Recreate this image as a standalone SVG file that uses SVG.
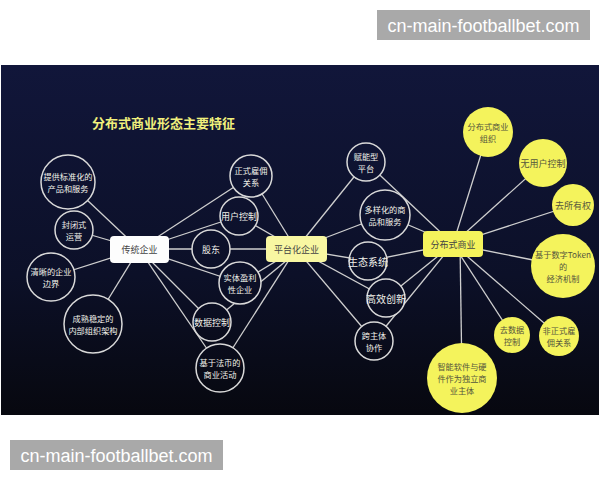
<svg xmlns="http://www.w3.org/2000/svg" width="600" height="480" viewBox="0 0 600 480">
<defs>
<linearGradient id="bg" gradientUnits="userSpaceOnUse" x1="0" y1="65" x2="0" y2="415">
<stop offset="0" stop-color="#11163a"/>
<stop offset="0.6" stop-color="#0c1028"/>
<stop offset="1" stop-color="#07080f"/>
</linearGradient>
<style>
.wm{fill:#a9a9a9}
.wmt{fill:#ffffff;font-family:"Liberation Sans",Arial,sans-serif;font-size:18px;text-anchor:middle}
.title{fill:#f0f07c;font-family:"Noto Sans CJK SC",sans-serif;font-size:13px;font-weight:bold}
.ring{fill:url(#bg);stroke:#d9d9d9;stroke-width:1.5}
.sun{fill:#f4f35c}
.t{font-family:"Noto Sans CJK SC",sans-serif;font-size:8.2px;text-anchor:middle;dominant-baseline:central}
.s{font-size:9px}
.tw{fill:#f2f2ea}
.td{fill:#55553c}
.tb{fill:#444}
.rw{fill:#fdfdfd}
.rp{fill:#f8f7a2}
.ry{fill:#f4f35c}
#edges line{stroke:#cfcfcf;stroke-width:1.3}
</style>
</defs>
<rect x="0" y="0" width="600" height="480" fill="#ffffff"/>
<rect x="1" y="65" width="598" height="350" fill="url(#bg)"/>
<rect class="wm" x="377" y="10" width="213" height="30"/>
<text class="wmt" x="483.5" y="31.5">cn-main-footballbet.com</text>
<rect class="wm" x="10" y="440" width="213" height="30"/>
<text class="wmt" x="116.5" y="461.5">cn-main-footballbet.com</text>
<text class="title" x="92" y="127.5">分布式商业形态主要特征</text>
<g id="edges">
<line x1="139" y1="249" x2="68" y2="182"/>
<line x1="139" y1="249" x2="74" y2="230"/>
<line x1="139" y1="249" x2="51" y2="277"/>
<line x1="139" y1="249" x2="93" y2="324"/>
<line x1="139" y1="249" x2="251" y2="176"/>
<line x1="139" y1="249" x2="239" y2="216"/>
<line x1="139" y1="249" x2="211" y2="249"/>
<line x1="139" y1="249" x2="240" y2="283"/>
<line x1="139" y1="249" x2="212" y2="322"/>
<line x1="139" y1="249" x2="220" y2="368"/>
<line x1="296" y1="249" x2="251" y2="176"/>
<line x1="296" y1="249" x2="239" y2="216"/>
<line x1="296" y1="249" x2="211" y2="249"/>
<line x1="296" y1="249" x2="240" y2="283"/>
<line x1="292" y1="256" x2="212" y2="322"/>
<line x1="296" y1="249" x2="220" y2="368"/>
<line x1="296" y1="249" x2="366" y2="162"/>
<line x1="296" y1="249" x2="385" y2="215"/>
<line x1="296" y1="249" x2="368" y2="261"/>
<line x1="296" y1="249" x2="386" y2="298"/>
<line x1="296" y1="249" x2="374" y2="341"/>
<line x1="453" y1="244" x2="366" y2="162"/>
<line x1="453" y1="244" x2="385" y2="215"/>
<line x1="453" y1="244" x2="368" y2="261"/>
<line x1="453" y1="244" x2="386" y2="298"/>
<line x1="453" y1="244" x2="374" y2="341"/>
<line x1="453" y1="244" x2="488" y2="132"/>
<line x1="453" y1="244" x2="543" y2="163"/>
<line x1="453" y1="244" x2="573" y2="205"/>
<line x1="453" y1="244" x2="563" y2="266"/>
<line x1="453" y1="244" x2="512" y2="335"/>
<line x1="453" y1="244" x2="559" y2="336"/>
<line x1="460" y1="244" x2="462" y2="378"/>
</g>
<g id="n-chuantong"><rect class="rw" x="110" y="236" width="59" height="27" rx="4"/><text class="t s tb" x="139.5" y="249.5">传统企业</text></g>
<g id="n-a1"><circle class="ring" cx="68" cy="182" r="27"/><text class="t tw" x="68" y="176">提供标准化的</text><text class="t tw" x="68" y="188">产品和服务</text></g>
<g id="n-a2"><circle class="ring" cx="74" cy="230" r="19"/><text class="t tw" x="74" y="224">封闭式</text><text class="t tw" x="74" y="236">运营</text></g>
<g id="n-a3"><circle class="ring" cx="51" cy="277" r="24"/><text class="t tw" x="51" y="271">清晰的企业</text><text class="t tw" x="51" y="283">边界</text></g>
<g id="n-a4"><circle class="ring" cx="93" cy="324" r="29"/><text class="t tw" x="93" y="318">成熟稳定的</text><text class="t tw" x="93" y="330">内部组织架构</text></g>
<g id="n-pingtai"><rect class="rp" x="266" y="236" width="61" height="26" rx="4"/><text class="t s tb" x="296.5" y="249">平台化企业</text></g>
<g id="n-b1"><circle class="ring" cx="251" cy="176" r="21"/><text class="t tw" x="251" y="170">正式雇佣</text><text class="t tw" x="251" y="182">关系</text></g>
<g id="n-b2"><circle class="ring" cx="239" cy="216" r="19"/><text class="t s tw" x="239" y="216">用户控制</text></g>
<g id="n-b3"><circle class="ring" cx="211" cy="249" r="19"/><text class="t s tw" x="211" y="249">股东</text></g>
<g id="n-b4"><circle class="ring" cx="240" cy="283" r="21"/><text class="t tw" x="240" y="277">实体盈利</text><text class="t tw" x="240" y="289">性企业</text></g>
<g id="n-b5"><circle class="ring" cx="212" cy="322" r="19"/><text class="t s tw" x="212" y="322">数据控制</text></g>
<g id="n-b6"><circle class="ring" cx="220" cy="368" r="24"/><text class="t tw" x="220" y="362">基于法币的</text><text class="t tw" x="220" y="374">商业活动</text></g>
<g id="n-fenbu"><rect class="ry" x="423" y="231" width="60" height="26" rx="4"/><text class="t s tb" x="453" y="244">分布式商业</text></g>
<g id="n-c1"><circle class="ring" cx="366" cy="162" r="19"/><text class="t tw" x="366" y="156">赋能型</text><text class="t tw" x="366" y="168">平台</text></g>
<g id="n-c2"><circle class="ring" cx="385" cy="215" r="25"/><text class="t tw" x="385" y="209">多样化的商</text><text class="t tw" x="385" y="221">品和服务</text></g>
<g id="n-c3"><circle class="ring" cx="368" cy="261" r="19"/><text class="t tw" x="368" y="261" style="font-size:10px">生态系统</text></g>
<g id="n-c4"><circle class="ring" cx="386" cy="298" r="19"/><text class="t tw" x="386" y="298" style="font-size:10px">高效创新</text></g>
<g id="n-c5"><circle class="ring" cx="374" cy="341" r="19"/><text class="t tw" x="374" y="335">跨主体</text><text class="t tw" x="374" y="347">协作</text></g>
<g id="n-d1"><circle class="sun" cx="488" cy="132" r="25"/><text class="t td" x="488" y="126">分布式商业</text><text class="t td" x="488" y="138">组织</text></g>
<g id="n-d2"><circle class="sun" cx="543" cy="163" r="24"/><text class="t s td" x="543" y="163">无用户控制</text></g>
<g id="n-d3"><circle class="sun" cx="573" cy="205" r="21"/><text class="t s td" x="573" y="205">去所有权</text></g>
<g id="n-d4"><circle class="sun" cx="563" cy="266" r="32"/><text class="t td" x="563" y="254">基于数字Token</text><text class="t td" x="563" y="266">的</text><text class="t td" x="563" y="278">经济机制</text></g>
<g id="n-d5"><circle class="sun" cx="512" cy="335" r="18"/><text class="t td" x="512" y="329">去数据</text><text class="t td" x="512" y="341">控制</text></g>
<g id="n-d6"><circle class="sun" cx="559" cy="336" r="20"/><text class="t td" x="559" y="330">非正式雇</text><text class="t td" x="559" y="342">佣关系</text></g>
<g id="n-d7"><circle class="sun" cx="462" cy="378" r="35"/><text class="t td" x="462" y="366">智能软件与硬</text><text class="t td" x="462" y="378">件作为独立商</text><text class="t td" x="462" y="390">业主体</text></g>
</svg>
